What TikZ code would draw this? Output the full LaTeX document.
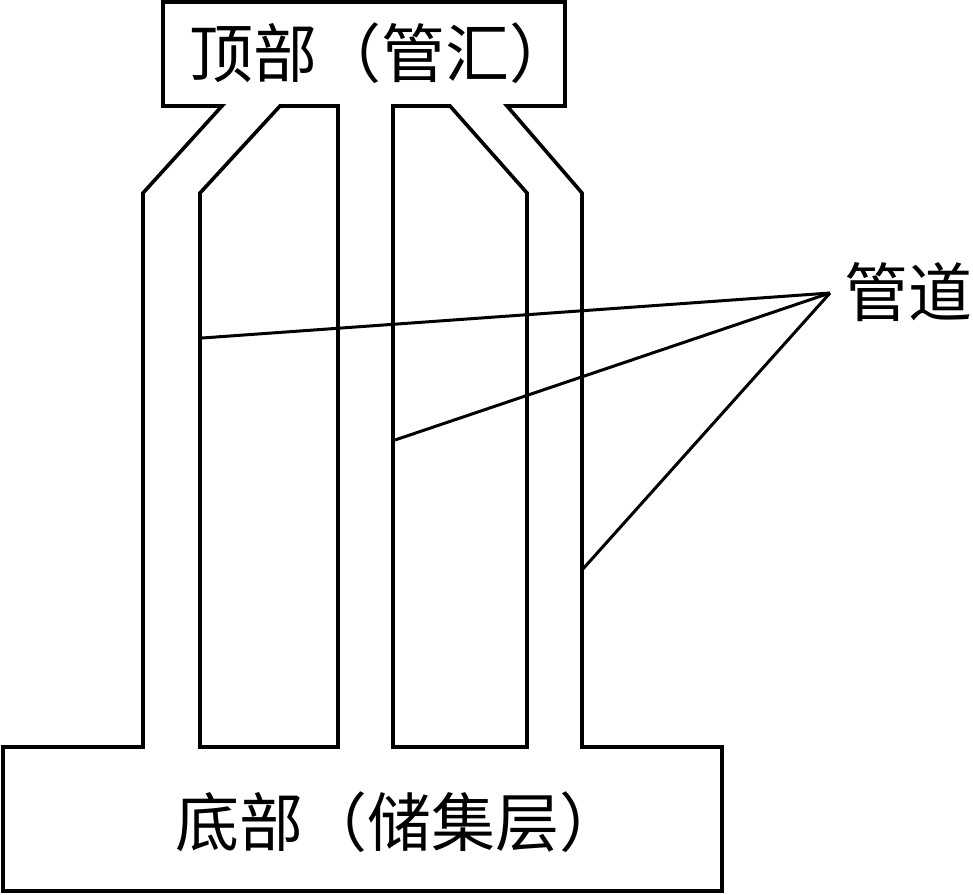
\documentclass[tikz,border=0pt]{standalone}
\usepackage{fontspec}
\newfontfamily\cjk{Noto Sans CJK SC}
\usetikzlibrary{positioning}

\tikzset{
  wall/.style={line width=3.6pt, line join=miter},
  leader/.style={line width=3pt},
  label/.style={font=\cjk\fontsize{64}{66}\selectfont, inner sep=0pt}
}

\begin{document}
\begin{tikzpicture}[x=1pt, y=-1pt]
    \useasboundingbox (0,0) rectangle (973,894);

    % outline of manifold, pipes and reservoir
    \draw[wall] (163,2) -- (565,2) -- (565,106) -- (507,106) -- (582,193)
      -- (582,747) -- (722,747) -- (722,891) -- (3,891) -- (3,747)
      -- (143,747) -- (143,193) -- (222,106) -- (163,106) -- cycle;
    \draw[wall] (200,193) -- (280,106) -- (338,106) -- (338,747)
      -- (200,747) -- cycle;
    \draw[wall] (393,106) -- (450,106) -- (527,193) -- (527,747)
      -- (393,747) -- cycle;

    \node[label] (top) at (381,53) {顶部（管汇）};
    \node[label] (bottom) at (399,822) {底部（储集层）};
    \node[label] (pipe) at (908,292) {管道};

    \coordinate (apex) at (830,293);
    \coordinate (p1) at (202,338);
    \coordinate (p2) at (395,440);
    \coordinate (p3) at (582,570);

    \draw[leader] (apex) -- (p1);
    \draw[leader] (apex) -- (p2);
    \draw[leader] (apex) -- (p3);
\end{tikzpicture}
\end{document}
